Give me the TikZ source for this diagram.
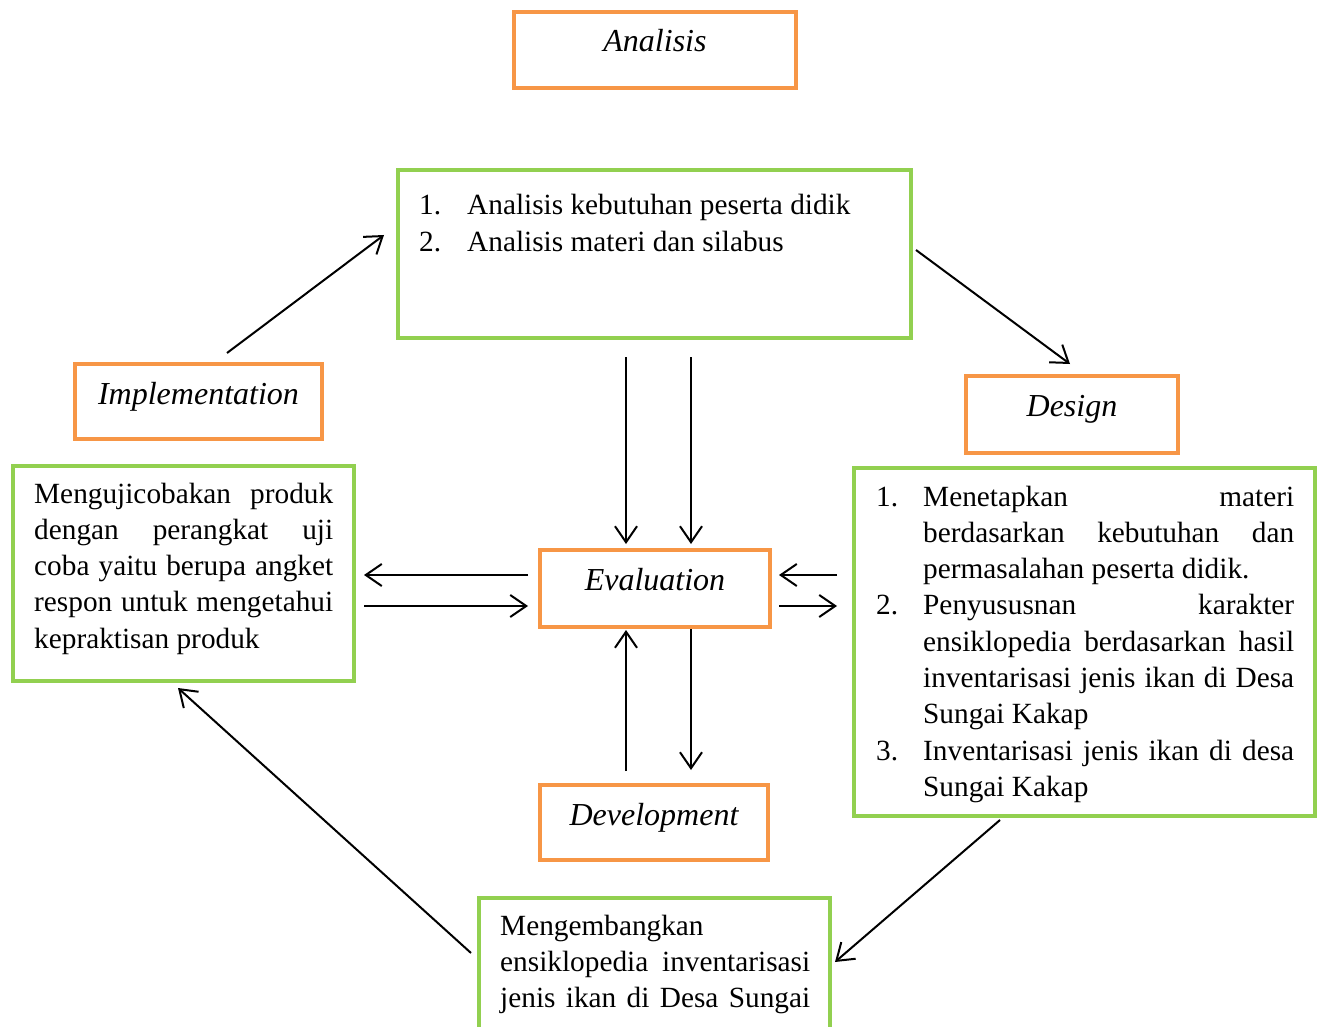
\documentclass[tikz,border=0pt]{standalone}
\usepackage{fontspec}
\setmainfont{Liberation Serif}
\usetikzlibrary{arrows.meta}
\definecolor{orng}{HTML}{F79646}
\definecolor{grn}{HTML}{92D050}
\newcommand\myjl[2]{\makebox[#1][s]{#2}\par}
\newcommand\myll[2]{\makebox[#1][l]{#2}\par}
\newcommand\mynl[2]{\makebox[47pt][l]{#1}\makebox[371pt][s]{#2}\par}
\newcommand\mynll[2]{\makebox[47pt][l]{#1}\makebox[371pt][l]{#2}\par}
\begin{document}
\begin{tikzpicture}[x=1pt,y=-1pt,
  font=\fontsize{29.3}{36.3}\selectfont,
  obox/.style={draw=orng,line width=4pt,rectangle,inner sep=0pt},
  gbox/.style={draw=grn,line width=4.5pt,rectangle,inner sep=0pt},
  lbl/.style={inner sep=0pt,anchor=base,font=\fontsize{32}{38}\selectfont\itshape},
  para/.style={inner sep=0pt,anchor=base west},
  arr/.style={line width=2pt,-{Straight Barb[length=16pt,width=22pt,line width=2pt]}}]
\useasboundingbox (0,0) rectangle (1323,1027);
% orange boxes
\node[obox,minimum width=282pt,minimum height=76pt] (analisis) at (655,50) {};
\node[obox,minimum width=247pt,minimum height=75pt] (impl) at (198.5,401.5) {};
\node[obox,minimum width=212pt,minimum height=77pt] (design) at (1072,414.5) {};
\node[obox,minimum width=230pt,minimum height=77pt] (eval) at (655,588.5) {};
\node[obox,minimum width=228pt,minimum height=75pt] (dev) at (654,822.5) {};
\node[lbl] (analisisT) at (655,52) {Analisis};
\node[lbl] (implT) at (198.5,404) {Implementation};
\node[lbl] (designT) at (1072,416) {Design};
\node[lbl] (evalT) at (655,590) {Evaluation};
\node[lbl] (devT) at (654,825) {Development};
% green boxes
\node[gbox,minimum width=513pt,minimum height=168pt] (top) at (654.5,254) {};
\node[gbox,minimum width=341pt,minimum height=215pt] (left) at (183.5,573.5) {};
\node[gbox,minimum width=461pt,minimum height=348pt] (right) at (1084.5,642) {};
\node[gbox,minimum width=351pt,minimum height=162pt] (bottom) at (654.5,979) {};
\node[para] (topT) at (419,215) {\parbox[t]{450pt}{\parindent=0pt\parskip=0pt
  \makebox[48pt][l]{1.}Analisis kebutuhan peserta didik\par
  \makebox[48pt][l]{2.}Analisis materi dan silabus\par}};
\node[para] (leftT) at (34,503) {\parbox[t]{299pt}{\parindent=0pt\parskip=0pt
  \myjl{299pt}{Mengujicobakan produk}
  \myjl{299pt}{dengan perangkat uji}
  \myjl{299pt}{coba yaitu berupa angket}
  \myjl{299pt}{respon untuk mengetahui}
  \myll{299pt}{kepraktisan produk}}};
\node[para] (rightT) at (876,506) {\parbox[t]{418pt}{\parindent=0pt\parskip=0pt
  \mynl{1.}{Menetapkan materi}
  \mynl{}{berdasarkan kebutuhan dan}
  \mynll{}{permasalahan peserta didik.}
  \mynl{2.}{Penyususnan karakter}
  \mynl{}{ensiklopedia berdasarkan hasil}
  \mynl{}{inventarisasi jenis ikan di Desa}
  \mynll{}{Sungai Kakap}
  \mynl{3.}{Inventarisasi jenis ikan di desa}
  \mynll{}{Sungai Kakap}}};
\node[para] (bottomT) at (500,935) {\parbox[t]{310pt}{\parindent=0pt\parskip=0pt
  \myll{310pt}{Mengembangkan}
  \myjl{310pt}{ensiklopedia inventarisasi}
  \myjl{310pt}{jenis ikan di Desa Sungai}}};
% connector end points
\coordinate (a1) at (227,353); \coordinate (a2) at (384,235);
\coordinate (b1) at (916,250); \coordinate (b2) at (1070,364);
\coordinate (c1) at (626,357); \coordinate (c2) at (626,544);
\coordinate (d1) at (691,357); \coordinate (d2) at (691,544);
\coordinate (e1) at (528,575); \coordinate (e2) at (364,575);
\coordinate (f1) at (364,606); \coordinate (f2) at (528,606);
\coordinate (g1) at (837,575); \coordinate (g2) at (779,575);
\coordinate (h1) at (779,606); \coordinate (h2) at (837,606);
\coordinate (i1) at (626,771); \coordinate (i2) at (626,630);
\coordinate (j1) at (691,629); \coordinate (j2) at (691,770);
\coordinate (k1) at (1000,820); \coordinate (k2) at (835,962);
\coordinate (l1) at (471,953); \coordinate (l2) at (178,688);
\draw[arr] (a1) -- (a2);
\draw[arr] (b1) -- (b2);
\draw[arr] (c1) -- (c2);
\draw[arr] (d1) -- (d2);
\draw[arr] (e1) -- (e2);
\draw[arr] (f1) -- (f2);
\draw[arr] (g1) -- (g2);
\draw[arr] (h1) -- (h2);
\draw[arr] (i1) -- (i2);
\draw[arr] (j1) -- (j2);
\draw[arr] (k1) -- (k2);
\draw[arr] (l1) -- (l2);
\end{tikzpicture}
\end{document}
